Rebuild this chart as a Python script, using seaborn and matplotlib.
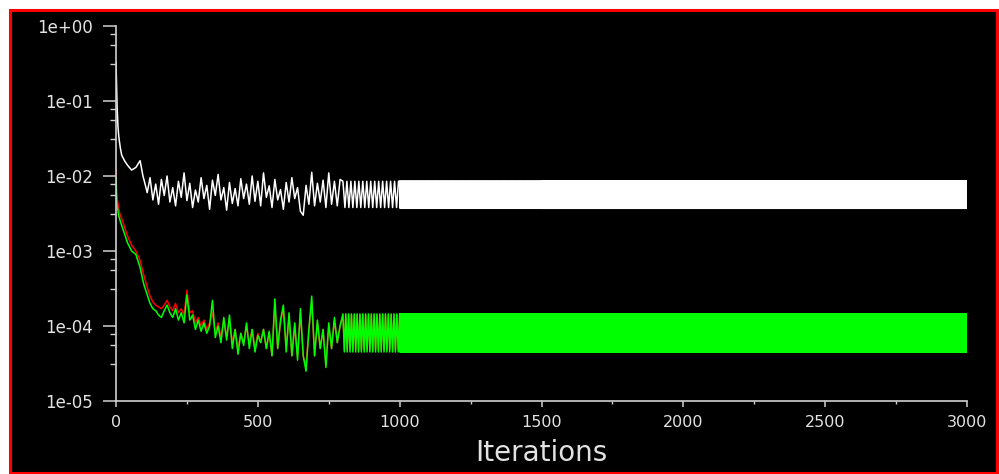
import matplotlib
matplotlib.use("Agg")
import matplotlib.pyplot as plt
import matplotlib.ticker as mticker
from matplotlib.patches import Rectangle
import numpy as np
import pandas as pd
import seaborn as sns

# --- data ----------------------------------------------------------------
# early, irregular part of the history (iterations 0..790)
it_early = [0, 2, 4, 7, 10, 15, 20, 30, 40, 55, 70, 85, 95] + list(range(100, 800, 10))

white_early = [0.33, 0.16, 0.08, 0.045, 0.033, 0.024, 0.019, 0.016, 0.014, 0.012, 0.013, 0.016, 0.010,
               0.0085, 0.0060, 0.0095, 0.0048, 0.0078, 0.0042, 0.0090, 0.0055, 0.0100, 0.0045,
               0.0070, 0.0040, 0.0085, 0.0052, 0.0110, 0.0047, 0.0080, 0.0038, 0.0065, 0.0045,
               0.0095, 0.0050, 0.0075, 0.0036, 0.0088, 0.0055, 0.0105, 0.0048, 0.0070, 0.0035,
               0.0082, 0.0043, 0.0068, 0.0040, 0.0092, 0.0050, 0.0078, 0.0042, 0.0100, 0.0046,
               0.0085, 0.0040, 0.0110, 0.0052, 0.0074, 0.0038, 0.0090, 0.0048, 0.0066, 0.0036,
               0.0082, 0.0045, 0.0095, 0.0050, 0.0070, 0.0034, 0.0030, 0.0075, 0.0042, 0.0112,
               0.0040, 0.0080, 0.0045, 0.0088, 0.0038, 0.0110, 0.0042, 0.0085, 0.0040, 0.0090]

red_early = [0.0120, 0.0060, 0.0050, 0.0042, 0.0036, 0.0030, 0.0027, 0.0021, 0.0016, 0.0012, 0.0010, 0.00075, 0.00052,
             0.00045, 0.00033, 0.00025, 0.00021, 0.00019, 0.00018, 0.00017, 0.00019, 0.00022, 0.00018,
             0.00016, 0.00020, 0.00015, 0.00017, 0.00014, 0.00030, 0.00015, 0.00016, 0.00011, 0.00013,
             0.00010, 0.00012, 0.00009, 0.00011, 0.00015, 0.00008, 0.00011, 0.00007, 0.00012, 0.00007,
             0.00012, 0.00006, 0.00009, 0.00005, 0.00008, 0.00006, 0.00010, 0.00006, 0.00009, 0.00005,
             0.00008, 0.00006, 0.00009, 0.00005, 0.00008, 0.00004, 0.00020, 0.00005, 0.00011, 0.00017,
             0.00005, 0.00013, 0.00004, 0.00010, 0.00004, 0.00015, 0.00004, 0.00003, 0.00009, 0.00020,
             0.00004, 0.00011, 0.00005, 0.00009, 0.00003, 0.00010, 0.00005, 0.00012, 0.00006, 0.00010]

green_early = [0.0095, 0.0048, 0.0040, 0.0034, 0.0029, 0.0025, 0.0022, 0.0017, 0.0013, 0.0010, 0.00090, 0.00060, 0.00040,
               0.00034, 0.00026, 0.00020, 0.00017, 0.00016, 0.00014, 0.00013, 0.00016, 0.00019, 0.00015,
               0.00013, 0.00017, 0.00012, 0.00015, 0.00011, 0.00026, 0.00012, 0.00014, 0.00009, 0.00012,
               0.000085, 0.00011, 0.00008, 0.00010, 0.00022, 0.00007, 0.00010, 0.00006, 0.00013, 0.000065,
               0.00014, 0.00005, 0.00009, 0.000042, 0.00008, 0.000055, 0.00011, 0.00005, 0.00009, 0.000045,
               0.000075, 0.00006, 0.00009, 0.00005, 0.000085, 0.00004, 0.00023, 0.00005, 0.00012, 0.00019,
               0.000045, 0.00015, 0.00004, 0.00011, 0.000035, 0.00017, 0.00004, 0.000025, 0.00009, 0.00025,
               0.00004, 0.00012, 0.00005, 0.00009, 0.000028, 0.00011, 0.00005, 0.00013, 0.00006, 0.00010]

# late part: the residuals settle into a limit cycle (high/low swing per block)
block_start = [800, 1000, 1500]
block_end = [1000, 1500, 3000]
white_step = [7, 2, 1]
rg_step = [5, 1, 1]
white_hi = [0.0085, 0.0086, 0.0086]
white_lo = [0.0038, 0.0037, 0.0037]
red_hi = [0.00014, 0.00014, 0.00014]
red_lo = [0.000048, 0.000046, 0.000046]
green_hi = [0.000145, 0.000145, 0.000145]
green_lo = [0.000045, 0.000045, 0.000045]


def history(early, hi, lo, steps):
    its = list(it_early)
    vals = list(early)
    for s, e, st, h, l in zip(block_start, block_end, steps, hi, lo):
        for k, it in enumerate(range(s, e + 1, st)):
            its.append(it)
            vals.append(h if k % 2 == 0 else l)
    return pd.DataFrame({"iter": its, "res": vals})


df_white = history(white_early, white_hi, white_lo, white_step)
df_red = history(red_early, red_hi, red_lo, rg_step)
df_green = history(green_early, green_hi, green_lo, rg_step)

# --- plot -----------------------------------------------------------------
sns.set_theme(style="dark")
plt.rcParams["font.family"] = ["DejaVu Sans"]

fig = plt.figure(figsize=(9.99, 4.74), dpi=100, facecolor="white")
fig.patches.append(Rectangle((9.5 / 999, 1.5 / 474), 987 / 999, 463 / 474,
                             transform=fig.transFigure, facecolor="black",
                             edgecolor="#ff0000", linewidth=2.2, zorder=-10))
ax = fig.add_axes([116 / 999, 1 - 401 / 474, 851 / 999, 375 / 474])
ax.set_zorder(5)
ax.set_facecolor("black")

txt = "#e2e2e2"
sns.lineplot(data=df_white, x="iter", y="res", ax=ax, color="white", linewidth=1.1,
             estimator=None, sort=False)
sns.lineplot(data=df_red, x="iter", y="res", ax=ax, color="#ff0000", linewidth=1.1,
             estimator=None, sort=False)
sns.lineplot(data=df_green, x="iter", y="res", ax=ax, color="#00ff00", linewidth=1.1,
             estimator=None, sort=False)

ax.set_yscale("log")
ax.set_ylim(1e-5, 1)
ax.set_xlim(0, 3000)

decades = [1e-5, 1e-4, 1e-3, 1e-2, 1e-1, 1e0]
ax.yaxis.set_major_locator(mticker.FixedLocator(decades))
ax.yaxis.set_major_formatter(mticker.FuncFormatter(lambda v, p: f"{v:.0e}"))
minor_y = [d * 10 ** (-f) for d in decades[1:] for f in (0.1, 0.25, 0.5)]
ax.yaxis.set_minor_locator(mticker.FixedLocator(minor_y))
ax.yaxis.set_minor_formatter(mticker.NullFormatter())

ax.xaxis.set_major_locator(mticker.MultipleLocator(500))
ax.xaxis.set_minor_locator(mticker.MultipleLocator(250))

for side in ("top", "right"):
    ax.spines[side].set_visible(False)
for side in ("left", "bottom"):
    ax.spines[side].set_color("#d0d0d0")
    ax.spines[side].set_linewidth(1.2)

ax.tick_params(axis="y", which="major", direction="out", length=9.5, width=1.1,
               color="#d0d0d0", labelcolor=txt, labelsize=12, pad=7, left=True)
ax.tick_params(axis="y", which="minor", direction="out", length=4.5, width=1.0,
               color="#d0d0d0", left=True)
ax.tick_params(axis="x", which="major", direction="out", length=4, width=1.1,
               color="#d0d0d0", labelcolor=txt, labelsize=11.5, pad=6, bottom=True)
ax.tick_params(axis="x", which="minor", direction="out", length=2.5, width=1.0,
               color="#d0d0d0", bottom=True)
ax.grid(False)

ax.set_ylabel("")
ax.set_xlabel("Iterations", fontsize=20, color=txt)
ax.xaxis.set_label_coords(0.5, -(453 - 401) / 375)
ax.xaxis.label.set_va("center")

fig.savefig("out.png", dpi=100, facecolor=fig.get_facecolor())
